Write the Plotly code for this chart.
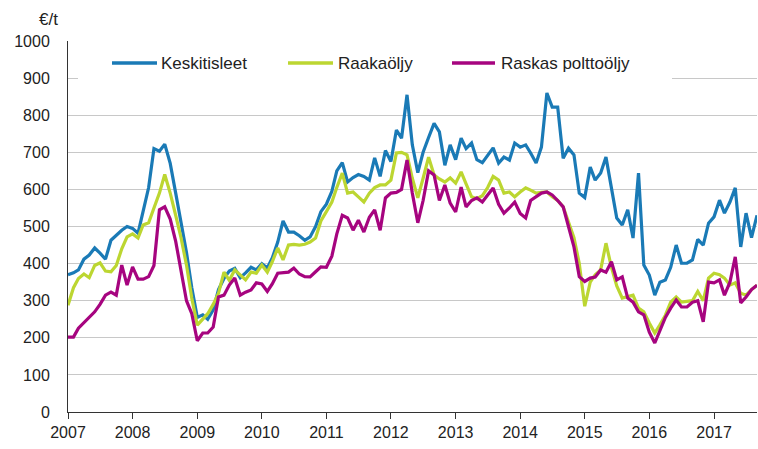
import pandas as pd
import plotly.graph_objects as go

# Monthly prices, EUR/t, Jan 2007 - Sep 2017
keskitisleet = [
    370, 375, 383, 412, 423, 442, 428, 412, 463, 477, 490, 500,
    495, 482, 545, 605, 710, 703, 722, 670, 590, 510, 430, 335,
    255, 262, 250, 275, 330, 360, 380, 387, 362, 375, 390, 383,
    400, 388, 415, 458, 515, 485, 485, 475, 463, 472, 500, 540,
    560, 595, 650, 672, 620, 632, 640, 635, 625, 685, 635, 705,
    675, 760, 738, 855, 720, 645, 700, 740, 778, 755, 665, 720,
    680, 738, 710, 725, 680, 672, 690, 712, 671, 687, 679, 725,
    714, 720, 698, 671, 714, 860, 822, 822, 684, 711, 693, 590,
    578, 660, 625, 644, 687, 606, 523, 504, 545, 469, 644, 396,
    369, 315, 350, 356, 390, 450, 401, 401, 410, 465, 450, 509,
    526, 571, 536, 566, 604, 445, 536, 470, 530,
]
raakaoljy = [
    288, 335, 360, 372, 362, 395, 402, 380, 378, 395, 440, 472,
    480, 469, 504, 510, 550, 590, 640, 590, 530, 470, 396, 307,
    234, 250, 265, 290, 320, 377, 355, 383, 370, 356, 377, 374,
    396, 377, 405, 442, 410, 450, 452, 450, 452, 458, 469, 515,
    540, 566, 605, 644, 590, 593, 580, 566, 590, 605, 612, 612,
    625, 698, 700, 693, 630, 577, 630, 687, 639, 628, 620, 631,
    617, 647, 615, 580, 575, 583, 605, 635, 625, 590, 593, 580,
    593, 604, 598, 590, 592, 593, 580, 570, 553, 515, 470, 400,
    285, 350, 370, 383, 455, 390, 340, 307, 312, 315, 280, 270,
    240, 213, 235, 261, 296, 310, 296, 298, 300, 325, 300, 361,
    374, 370, 361, 342, 348, 320, 315, 330, 342,
]
raskas = [
    202, 202, 226, 240, 255, 270, 290, 315, 323, 315, 396, 342,
    391, 358, 358, 365, 395, 545, 553, 520, 460, 380, 300, 265,
    192, 213, 213, 229, 310, 315, 342, 361, 315, 323, 329, 348,
    345, 325, 345, 374, 375, 377, 388, 372, 365, 364, 378, 391,
    390, 420, 480, 530, 523, 490, 517, 485, 525, 545, 490, 577,
    590, 592, 600, 679, 590, 510, 570, 650, 639, 570, 612, 563,
    539, 606, 553, 570, 577, 566, 585, 604, 560, 536, 550, 566,
    535, 523, 570, 580, 590, 593, 585, 570, 553, 500, 445, 365,
    352, 361, 364, 383, 377, 405, 356, 364, 307, 296, 270, 262,
    215, 186, 220, 255, 280, 302, 283, 283, 296, 300, 243, 350,
    348, 356, 315, 350, 418, 294, 310, 330, 342,
]
series_names = ["Keskitisleet", "Raakaöljy", "Raskas polttoöljy"]
year_ticks = [str(y) for y in range(2007, 2018)]

dates = pd.date_range("2007-01-01", periods=len(keskitisleet), freq="MS")
date_str = [d.strftime("%Y-%m-%d") for d in dates]

colors = ["#1A7AB6", "#BCD631", "#A6047F"]
FONT = "Liberation Sans, Arial, sans-serif"

fig = go.Figure()
for name, vals, col in zip(series_names, [keskitisleet, raakaoljy, raskas], colors):
    fig.add_trace(go.Scatter(x=date_str, y=vals, mode="lines", name=name,
                             line=dict(color=col, width=3.2), showlegend=False))

# plot-area geometry helpers (pixels -> paper)
L, R, T, B = 68, 757, 41, 412
def px(x):
    return (x - L) / (R - L)
def py(y):
    return (B - y) / (B - T)

shapes = [dict(type="rect", xref="paper", yref="paper", x0=px(78), x1=px(672),
               y0=py(84), y1=py(36), fillcolor="white", line=dict(width=0), layer="above")]
annotations = []
leg_pos = [(112, 157, 159), (288, 333, 336), (452, 495, 499)]
for name, col, (x0, x1, xt) in zip(series_names, colors, leg_pos):
    shapes.append(dict(type="line", xref="paper", yref="paper", x0=px(x0), x1=px(x1),
                       y0=py(63), y1=py(63), line=dict(color=col, width=3.5), layer="above"))
    annotations.append(dict(text=name, xref="paper", yref="paper", x=px(xt), y=py(63),
                            xanchor="left", yanchor="middle", showarrow=False,
                            font=dict(size=17, color="#222", family=FONT)))
annotations.append(dict(text="€/t", xref="paper", yref="paper", x=px(60), y=py(19),
                        xanchor="right", yanchor="middle", showarrow=False,
                        font=dict(size=17, color="#222", family=FONT)))

fig.update_layout(
    width=758, height=449,
    margin=dict(l=L, r=758 - R, t=T, b=449 - B, autoexpand=False),
    paper_bgcolor="white", plot_bgcolor="white",
    font=dict(family=FONT, size=16, color="#222"),
    shapes=shapes, annotations=annotations,
    xaxis=dict(type="date", range=[date_str[0], date_str[-1]],
               tickvals=[f"{y}-01-01" for y in year_ticks],
               ticktext=year_ticks,
               ticks="outside", ticklen=6, tickcolor="#333", tickwidth=1,
               showline=True, linecolor="#333", linewidth=1,
               showgrid=False, zeroline=False, automargin=False,
               tickfont=dict(size=16, family=FONT, color="#222")),
    yaxis=dict(range=[0, 1000], dtick=100, showgrid=True, gridcolor="#C8C8C8", gridwidth=1,
               showline=True, linecolor="#333", linewidth=1, zeroline=False,
               ticks="", ticklabelstandoff=14, automargin=False,
               tickfont=dict(size=16, family=FONT, color="#222")),
)

fig.write_html("out.html", config={"displayModeBar": False},
               post_script="document.body.style.margin='0';document.body.style.overflow='hidden';")
